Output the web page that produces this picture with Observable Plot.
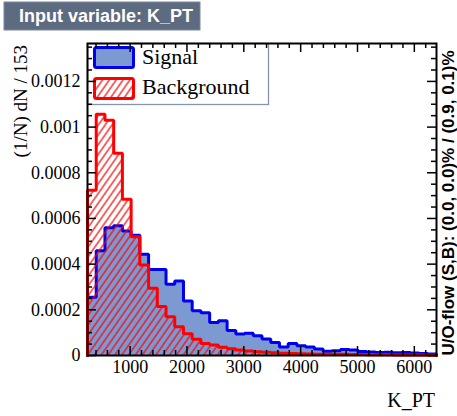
<!DOCTYPE html>
<html><head><meta charset="utf-8">
<script src="https://cdn.jsdelivr.net/npm/d3@7"></script>
<script src="https://cdn.jsdelivr.net/npm/@observablehq/plot@0.6"></script>
<style>
body{margin:0;background:#fff;}
#wrap{width:457px;height:416px;}
</style></head><body><div id="wrap"></div>
<script>
// ---- data ----
const xMin = 250;
const binWidth = 153.5;
const signal = [
  0.000255,0.000459,0.000559,0.000568,0.000545,0.000527,0.000443,0.000377,0.000377,0.000312,
  0.000326,0.000239,0.000196,0.000187,0.000145,0.000152,0.000109,0.000094,0.000097,0.000087,
  0.000072,0.000057,0.000037,0.000052,0.000043,0.000037,0.000028,0.000019,0.000021,0.000026,
  0.000024,0.000017,0.000015,0.000013,0.000014,0.000012,0.000013,0.000011,0.000009,0.000007
];
const background = [
  0.000724,0.001056,0.00103,0.000885,0.000684,0.00052,0.000396,0.000294,0.000214,0.00017,
  0.000126,0.000095,0.000071,0.000053,0.000046,0.000036,0.00003,0.000024,0.00002,0.000016,
  0.000014,0.000012,0.00001,0.000009,0.000008,0.000007,0.000006,0.000006,0.000005,0.000005,
  0.000004,0.000004,0.000003,0.000003,0.000003,0.000002,0.000002,0.000002,0.000002,0.000001
];
const xTicksMajor = [1000,2000,3000,4000,5000,6000];
const xTickLabels = ["1000","2000","3000","4000","5000","6000"];
const yTicksMajor = [0,0.0002,0.0004,0.0006,0.0008,0.001,0.0012];
const yTickLabels = ["0","0.0002","0.0004","0.0006","0.0008","0.001","0.0012"];
const yMax = 0.001366;
const titleText = "Input variable: K_PT";
const yLabel = "(1/N) dN / 153";
const xLabel = "K_PT";
const flowLabel = "U/O-flow (S,B): (0.0, 0.0)% / (0.9, 0.1)%";
const legendNames = ["Signal","Background"];

// ---- derived ----
const xMax = xMin + signal.length * binWidth;
function stepPts(vals){
  const pts = [{x:xMin, y:0}];
  vals.forEach((v,i) => pts.push({x:xMin + i*binWidth, y:v}));
  pts.push({x:xMax, y:vals[vals.length-1]});
  pts.push({x:xMax, y:0});
  return pts;
}
const sigPts = stepPts(signal);
const bkgPts = stepPts(background);
const xMinor = d3.range(400, xMax, 200).filter(v => v % 1000 !== 0);
const yMinor = d3.range(0.00005, yMax, 0.00005).filter(v => Math.abs(v/0.0002 - Math.round(v/0.0002)) > 1e-6);

const W = 457, H = 416, mL = 87, mR = 21, mT = 43, mB = 61;
const FH = H - mT - mB, FW = W - mL - mR;
const serif = "'Liberation Serif', 'Times New Roman', serif";
const sans = "'Liberation Sans', Arial, sans-serif";
const tickStyle = {stroke:"black", strokeWidth:1.5};

const hatchDefs = () => {
  const defs = d3.create("svg:defs");
  const p = defs.append("pattern").attr("id","hatchBkg").attr("patternUnits","userSpaceOnUse")
    .attr("width",5.6).attr("height",10).attr("patternTransform","rotate(35)");
  p.append("line").attr("x1",1).attr("y1",-1).attr("x2",1).attr("y2",11)
    .style("stroke","#ff0000").style("stroke-width","1.2px");
  return defs.node();
};

const annotations = () => {
  const g = d3.create("svg:g").attr("text-anchor","start");
  g.append("rect").attr("x", mL+0.5).attr("y", mT+0.5).attr("width", 181).attr("height", 61)
    .attr("fill","white").attr("stroke","#8494aa").attr("stroke-width",1.3);
  g.append("rect").attr("x", 94.5).attr("y", 47.5).attr("width", 39).attr("height", 20).attr("rx",2)
    .attr("fill","#7d99d1").attr("stroke","#0000ee").attr("stroke-width",3);
  g.append("rect").attr("x", 94.5).attr("y", 78.5).attr("width", 39).attr("height", 20).attr("rx",2)
    .attr("fill","url(#hatchBkg)").attr("stroke","#ff0000").attr("stroke-width",3);
  g.append("text").attr("x",142).attr("y",64).text(legendNames[0])
    .attr("font-family",serif).attr("font-size",22).attr("fill","black");
  g.append("text").attr("x",142).attr("y",94).text(legendNames[1])
    .attr("font-family",serif).attr("font-size",22).attr("fill","black");
  return g.node();
};

const outer = () => {
  const g = d3.create("svg:g").attr("text-anchor","start");
  g.append("rect").attr("x",4).attr("y",2).attr("width",196).attr("height",28)
    .attr("fill","#5d6b80").attr("stroke","#7a889c").attr("stroke-width",1);
  g.append("text").attr("x",19).attr("y",22).attr("text-anchor","start").text(titleText)
    .attr("font-family",sans).attr("font-weight","bold").attr("font-size",18).attr("fill","white");
  g.append("text").attr("transform","translate(27,45) rotate(-90)").attr("text-anchor","end")
    .text(yLabel).attr("font-family",serif).attr("font-size",19).attr("fill","black");
  g.append("text").attr("x",435).attr("y",407).attr("text-anchor","end")
    .text(xLabel).attr("font-family",serif).attr("font-size",20).attr("fill","black");
  g.append("text").attr("transform","translate(454,203) rotate(-90)").attr("text-anchor","middle")
    .text(flowLabel).attr("font-family",sans).attr("font-weight","bold").attr("font-size",17).attr("fill","black");
  return g.node();
};

const plot = Plot.plot({
  width: W, height: H,
  marginLeft: mL, marginRight: mR, marginTop: mT, marginBottom: mB,
  x: {domain: [xMin, xMax], axis: null},
  y: {domain: [0, yMax], axis: null},
  style: {background: "white", overflow: "visible"},
  marks: [
    hatchDefs,
    Plot.areaY(sigPts, {x:"x", y:"y", curve:"step-after", fill:"#7d99d1"}),
    Plot.lineY(sigPts, {x:"x", y:"y", curve:"step-after", stroke:"#0000ee", strokeWidth:3, strokeLinejoin:"miter"}),
    Plot.areaY(bkgPts, {x:"x", y:"y", curve:"step-after", fill:"url(#hatchBkg)"}),
    Plot.lineY(bkgPts, {x:"x", y:"y", curve:"step-after", stroke:"#ff0000", strokeWidth:3, strokeLinejoin:"miter"}),
    annotations,
    Plot.ruleX(xTicksMajor, {x:d=>d, insetTop: FH-9, ...tickStyle}),
    Plot.ruleX(xMinor, {x:d=>d, insetTop: FH-5, ...tickStyle}),
    Plot.ruleX(xTicksMajor, {x:d=>d, insetBottom: FH-9, ...tickStyle}),
    Plot.ruleX(xMinor, {x:d=>d, insetBottom: FH-5, ...tickStyle}),
    Plot.ruleY(yTicksMajor, {y:d=>d, insetRight: FW-9, ...tickStyle}),
    Plot.ruleY(yMinor, {y:d=>d, insetRight: FW-5, ...tickStyle}),
    Plot.ruleY(yTicksMajor, {y:d=>d, insetLeft: FW-9, ...tickStyle}),
    Plot.ruleY(yMinor, {y:d=>d, insetLeft: FW-5, ...tickStyle}),
    Plot.frame({stroke:"black", strokeWidth:2}),
    Plot.text(xTicksMajor, {x:d=>d, text:(d,i)=>xTickLabels[i], frameAnchor:"bottom", dy:17,
      fontFamily: serif, fontSize:18, fill:"black"}),
    Plot.text(yTicksMajor, {y:d=>d, text:(d,i)=>yTickLabels[i], frameAnchor:"left", textAnchor:"end", dx:-7,
      fontFamily: serif, fontSize:18, fill:"black"}),
    outer
  ]
});

document.getElementById("wrap").appendChild(plot);
</script></body></html>
